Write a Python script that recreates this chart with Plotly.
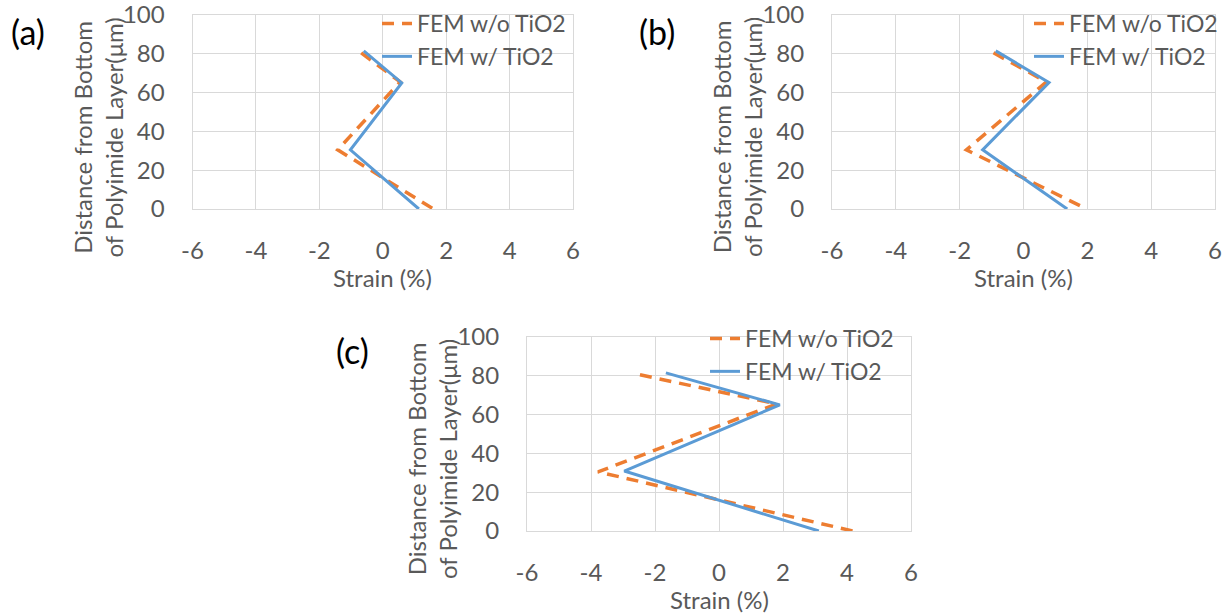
import plotly.graph_objects as go

# Strain profiles through the polyimide layer, three loading cases (a), (b), (c)
panels = ["(a)", "(b)", "(c)"]

# FEM without TiO2 (dashed orange)
strain_wo_a = [-0.68, 0.55, -1.42, 1.60]
depth_wo_a = [80.5, 65.5, 30.5, 0]
strain_wo_b = [-0.94, 0.72, -1.79, 1.98]
depth_wo_b = [80.5, 65.5, 30.5, 0]
strain_wo_c = [-2.47, 1.80, -3.78, 4.18]
depth_wo_c = [80.5, 65.5, 30.5, 0]

# FEM with TiO2 (solid blue)
strain_w_a = [-0.60, 0.60, -1.02, 1.14]
depth_w_a = [81.5, 65.0, 30.5, 0]
strain_w_b = [-0.87, 0.80, -1.28, 1.37]
depth_w_b = [81.5, 65.2, 30.5, 0]
strain_w_c = [-1.66, 1.90, -2.96, 3.12]
depth_w_c = [81.5, 65.0, 30.9, 0]

series_wo = [(strain_wo_a, depth_wo_a), (strain_wo_b, depth_wo_b), (strain_wo_c, depth_wo_c)]
series_w = [(strain_w_a, depth_w_a), (strain_w_b, depth_w_b), (strain_w_c, depth_w_c)]

name_wo = "FEM w/o TiO2"
name_w = "FEM w/ TiO2"

x_ticks = [-6, -4, -2, 0, 2, 4, 6]
x_tick_labels = ["-6", "-4", "-2", "0", "2", "4", "6"]
y_ticks = [0, 20, 40, 60, 80, 100]
y_tick_labels = ["0", "20", "40", "60", "80", "100"]

x_title = "Strain (%)"
y_title = "Distance from Bottom<br>of Polyimide Layer(μm)"

W, H = 1228, 615
FONT = "Lato, 'Open Sans', sans-serif"
GREY = "#595959"
GRID = "#d9d9d9"
ORANGE = "#ED7D31"
BLUE = "#5B9BD5"

# plot-area boxes in pixels: (left, right, top, bottom)
boxes = [(192.5, 573, 15, 209), (832, 1215, 15, 209), (527, 911, 337, 531)]
# legend anchor (left, top) in pixels
legend_pos = [(377, 2), (1029, 2), (705, 317)]
# panel label centres in pixels
label_pos = [(28, 31), (657, 31), (352, 351)]


def px_x(v):
    return v / W


def px_y(v):
    return 1 - v / H


fig = go.Figure()
annotations = []
layout = {}

for i in range(3):
    left, right, top, bottom = boxes[i]
    sfx = "" if i == 0 else str(i + 1)
    xa, ya = "x" + sfx, "y" + sfx
    leg = "legend" + sfx

    fig.add_trace(go.Scatter(
        x=series_wo[i][0], y=series_wo[i][1], mode="lines", name=name_wo,
        line=dict(color=ORANGE, width=3.5, dash="12px,8px"),
        xaxis=xa, yaxis=ya, legend=leg, showlegend=True,
    ))
    fig.add_trace(go.Scatter(
        x=series_w[i][0], y=series_w[i][1], mode="lines", name=name_w,
        line=dict(color=BLUE, width=3),
        xaxis=xa, yaxis=ya, legend=leg, showlegend=True,
    ))

    axis_common = dict(
        showgrid=True, gridcolor=GRID, gridwidth=1, zeroline=False,
        showline=True, linecolor=GRID, linewidth=1, mirror=True,
        ticks="", automargin=False, ticklabeloverflow="allow",
        tickfont=dict(family=FONT, size=24, color=GREY), fixedrange=True,
    )
    layout["xaxis" + sfx] = dict(
        domain=[px_x(left), px_x(right)], range=[-6, 6], anchor=ya,
        tickvals=x_ticks, ticktext=x_tick_labels, ticklabelstandoff=20,
        **axis_common,
    )
    layout["yaxis" + sfx] = dict(
        domain=[px_y(bottom), px_y(top)], range=[0, 100], anchor=xa,
        tickvals=y_ticks, ticktext=y_tick_labels, ticklabelstandoff=22,
        **axis_common,
    )
    lx, ly = legend_pos[i]
    layout[leg] = dict(
        x=px_x(lx), y=px_y(ly), xref="paper", yref="paper",
        xanchor="left", yanchor="top", bgcolor="rgba(0,0,0,0)",
        font=dict(family=FONT, size=23, color=GREY),
        itemwidth=30, tracegroupgap=0, borderwidth=0,
    )

    # x-axis title
    annotations.append(dict(
        text=x_title, xref="paper", yref="paper",
        x=px_x((left + right) / 2), y=px_y(bottom + 68),
        xanchor="center", yanchor="middle", showarrow=False,
        font=dict(family=FONT, size=24, color=GREY),
    ))
    # y-axis title (two lines, rotated)
    annotations.append(dict(
        text=y_title, xref="paper", yref="paper",
        x=px_x(left - 95), y=px_y(bottom - 72), textangle=-90,
        xanchor="center", yanchor="middle", showarrow=False,
        font=dict(family=FONT, size=24, color=GREY),
    ))
    # panel label
    cx, cy = label_pos[i]
    annotations.append(dict(
        text=panels[i], xref="paper", yref="paper",
        x=px_x(cx), y=px_y(cy), xanchor="center", yanchor="middle",
        showarrow=False, font=dict(family=FONT, size=34, color="#000000"),
    ))

fig.update_layout(
    width=W, height=H,
    margin=dict(l=0, r=0, t=0, b=0, autoexpand=False),
    paper_bgcolor="white", plot_bgcolor="white",
    annotations=annotations, **layout,
)

fig.write_html("out.html", config={"displayModeBar": False})
